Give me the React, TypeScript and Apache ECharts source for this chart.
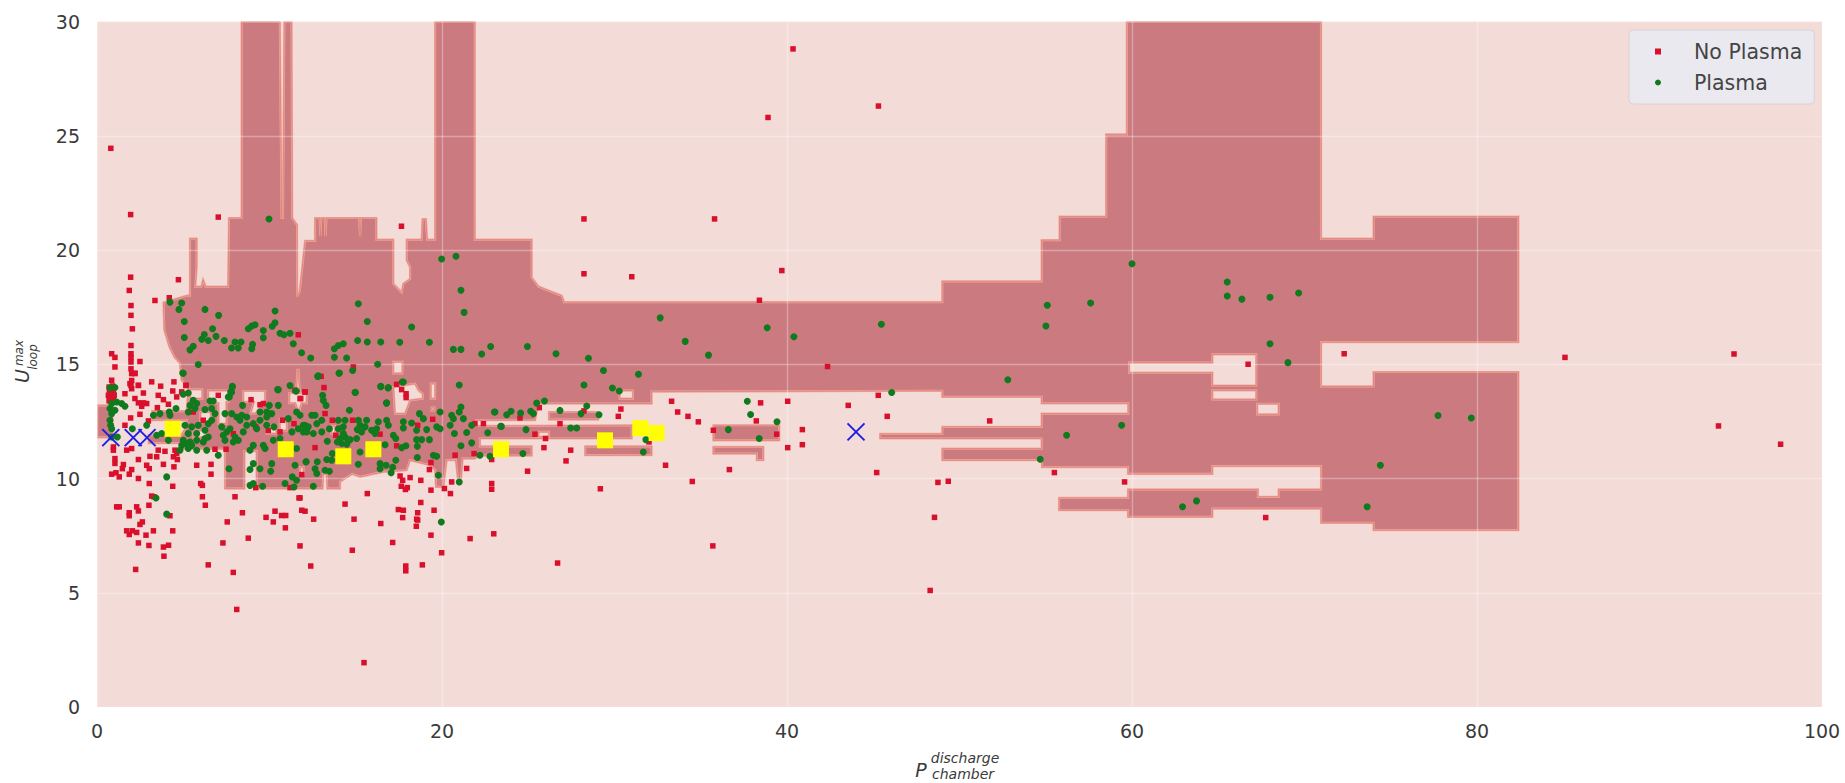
import React, { useEffect, useRef } from "react";
import * as echarts from "echarts";

const xTicks = { min: 0, max: 100, step: 20 };
const yTicks = { min: 0, max: 30, step: 5 };

// Decision region outline (P, U), clockwise
const mainRegion: number[][] = [
  [3.85,17.7],[5.2,18.0],[5.39,18.0],[5.39,20.5],[5.78,20.5],[5.78,19.25],[5.7,18.4],[6.05,18.4],[6.15,18.7],[6.3,18.4],[7.6,18.4],[7.65,21.4],[8.38,21.4],[8.38,30],
  [10.6,30],[10.7,21.4],[10.78,21.4],[10.86,30],[11.28,30],[11.32,21.4],[11.6,21.1],[11.6,17.95],[11.75,18.2],[12.06,20.4],[12.64,20.4],[12.64,21.4],[12.9,21.4],[12.95,20.6],[13.0,21.4],[13.2,21.4],[13.25,20.6],[13.3,21.4],
  [15.2,21.4],[15.25,20.6],[15.3,21.4],[16.2,21.4],[16.2,20.45],[17.18,20.45],[17.18,18.53],[17.66,18.15],[17.76,18.53],[18.15,18.74],[18.15,19.25],[17.95,19.55],[17.95,20.45],[18.82,20.45],[18.87,21.35],[19.07,21.35],[19.14,20.45],[19.6,20.45],[19.6,30],
  [21.9,30],[21.9,20.45],[25.2,20.45],[25.2,18.8],[25.6,18.4],[26.26,18.2],[26.94,18.0],[27.08,17.72],[49,17.72],[49,18.63],[54.76,18.63],[54.76,20.43],[55.8,20.43],[55.8,21.46],[58.5,21.46],[58.5,25.06],[59.7,25.06],[59.7,30],
  [70.96,30],[70.96,20.5],[74,20.5],[74,21.46],[82.4,21.46],[82.4,15.97],[70.96,15.97],[70.96,14.03],[74,14.03],[74,14.66],[82.4,14.66],[82.4,7.74],[74,7.74],[74,8.06],[70.96,8.06],[70.96,8.68],[64.66,8.68],[64.66,8.32],[59.77,8.32],[59.77,8.61],[55.77,8.61],[55.77,9.15],[59.77,9.15],[59.77,9.52],
  [67.3,9.52],[67.3,9.2],[68.5,9.2],[68.5,9.52],[70.96,9.52],[70.96,10.54],[64.66,10.54],[64.66,10.2],[59.77,10.2],[59.77,10.5],[54.78,10.5],[54.78,10.8],[49,10.8],[49,11.31],[54.76,11.31],[54.76,11.75],[45.4,11.75],[45.4,11.95],[49,11.95],[49,12.26],[54.76,12.26],[54.76,12.84],[59.78,12.84],[59.78,13.29],[54.76,13.29],[54.76,13.57],[49,13.57],[49,13.84],
  [32.15,13.8],[32.15,13.28],[25.58,13.28],[25.4,12.55],[22,12.55],[22,12.3],[31,12.33],[31,11.75],[22.2,11.75],[22.2,11.41],[25.2,11.41],[25.2,11.0],[22.2,11.0],[21.9,10.87],[21.2,10.87],[21.08,9.78],[20.95,9.78],[20.8,10.8],[20.27,10.8],[20.08,9.63],[19.65,9.63],[19.6,10.36],[19.3,10.58],[18.15,10.8],[17.95,10.36],[16.6,10.29],[15.25,10.07],[14.8,10.2],[14.09,9.85],[14.09,9.56],[13.35,9.56],[13.3,10.2],[13.12,10.2],[13.08,9.56],[9.25,9.56],[9.25,11.2],[8.55,11.2],[8.55,9.56],[7.42,9.56],[7.42,11.3],[5,11.3],[5,11.55],[3,11.55],[3,11.9],[4.9,11.9],[5.2,12.3],[5.2,12.55],[3.2,12.55],[3.2,12.95],[5.2,12.95],[5.3,14],[4.9,14.3],[4.8,15.05],[4.5,15.3],[4.2,15.75],[3.9,16.5],
];
const leftStub: number[][] = [[0,13.2],[0.9,13.2],[0.9,11.8],[0,11.8]];
const stripB: number[][] = [[26.2,12.91],[29.05,12.91],[29.05,12.58],[26.2,12.58]];
const stripD: number[][] = [[28.3,11.41],[32.15,11.41],[32.15,11.02],[28.3,11.02]];
const stripF: number[][] = [[35.73,12.33],[39.55,12.33],[39.55,11.67],[35.73,11.67]];
const stripG: number[][] = [[35.73,11.38],[38.63,11.38],[38.63,10.8],[38.25,10.8],[38.25,11.09],[35.73,11.09]];
const darkRegions = [mainRegion, leftStub, stripB, stripD, stripF, stripG];

const holeRegions: number[][][] = [
  [[6.45,13.85],[7.62,13.85],[7.62,13.35],[7.5,13.35],[7.5,12.4],[7.05,12.4],[7.05,13.3],[6.45,13.3]],
  [[8.48,13.83],[9.74,13.83],[9.74,13.45],[9.2,12.85],[8.9,12.85],[9.1,13.35],[8.48,13.35]],
  [[11.15,13.74],[12.15,13.74],[12.15,13.3],[11.85,13.3],[11.7,12.9],[11.5,13.3],[11.15,13.3]],
  [[11.55,13.8],[11.75,13.8],[11.68,14.75],[11.62,14.75]],
  [[17.18,14],[18.44,14.15],[18.63,13.86],[18.88,13.7],[18.88,13.5],[18.15,13.42],[17.86,12.84],[17.28,12.84]],
  [[17.18,15.1],[17.7,15.1],[17.7,14.6],[17.18,14.6]],
  [[19.35,14.15],[19.6,14.15],[19.6,13.5],[19.35,13.5]],
  [[19.4,13.1],[19.55,13.1],[19.55,12.98],[19.4,12.98]],
  [[30.3,13.85],[31.07,13.85],[31.07,13.5],[30.3,13.5]],
  [[25.6,12.04],[26.2,12.04],[26.2,11.82],[25.6,11.82]],
  [[59.83,15.07],[64.66,15.07],[64.66,15.43],[67.2,15.43],[67.2,14.07],[64.66,14.07],[64.66,14.63],[59.83,14.63]],
  [[64.66,13.86],[67.2,13.86],[67.2,13.46],[64.66,13.46]],
  [[67.26,13.27],[68.5,13.27],[68.5,12.81],[67.26,12.81]],
  [[9.84,12.33],[10.4,12.33],[10.4,11.97],[9.84,11.97]],
  [[10.6,12.6],[11,12.6],[11,12.1],[10.6,12.1]],
  [[13.6,12.3],[13.8,12.3],[13.8,11.97],[13.6,11.97]],
  [[11.77,10.5],[11.97,10.5],[11.97,10.2],[11.77,10.2]],
  [[6.0,12.9],[6.6,12.9],[6.6,12.5],[6.0,12.5]],
  [[5.4,13.9],[6.1,13.9],[6.1,13.5],[5.4,13.5]],
  [[5.6,12.1],[6.3,12.1],[6.3,11.8],[5.6,11.8]],
];

const noPlasmaOutliers: number[][] = [
  [0.8,24.45],[1.95,21.55],[7.03,21.44],[17.65,21.04],[28.23,21.36],[35.8,21.36],[40.35,28.8],[38.9,25.8],[45.3,26.3],[28.23,18.96],[31,18.83],[39.7,19.1],[38.4,17.8],[42.35,14.9],[43.55,13.2],[72.3,15.46],[85.1,15.3],[94.9,15.45],[94,12.3],[97.6,11.5],[66.73,15],[51.75,12.52],[55.5,10.26],[59.57,9.85],[48.75,9.83],[49.35,9.88],[48.55,8.3],[48.3,5.1],[45.2,10.26],[45.29,13.64],[45.81,12.72],[67.75,8.29],[35.7,7.05],[26.7,6.3],
];
const noPlasmaMid: number[][] = [
  [25.64,13.1],[24.52,12.65],[28.23,12.96],[30.37,13.04],[30.22,12.72],[26.84,12.4],[25.39,11.94],[26,11.75],[25.91,11.35],[27.46,11.24],[27.19,10.77],[24.96,10.32],[29.18,9.55],[32,11.6],[33.31,13.38],[33.66,12.91],[34.26,12.72],[34.86,12.48],[35.73,12.11],[39.4,11.94],[38.47,13.31],[40.04,13.38],[38.22,12.52],[40.89,12.14],[40.04,11.35],[40.89,11.48],[36.66,10.39],[32.96,10.58],[34.51,9.87],
  [13.16,13.98],[12.06,13.79],[11.77,13.5],[13.22,12.84],[17.37,14.12],[17.66,13.89],[17.92,13.71],[17.92,13.54],[14.82,12.55],[13.64,12.55],[13.84,11.89],[12.64,11.35],[16.41,11.94],[17.37,11.43],[18.59,12.33],[19.46,12.59],[20.76,11.02],[21.86,11.09],[22.4,12.4],[21.91,12.4],[22.88,10.83],[21.43,10.44],[19.36,10.7],[19.27,10.39],[17.57,10.11],[17.72,9.92],[18.15,10.04],[18.77,9.92],[17.64,9.66],[17.99,9.6],[17.88,9.52],[19.36,9.49],[20.14,9.56],[20.56,9.85],[20.49,9.34],[22.88,9.78],[22.88,9.53],[15.67,9.34],[14.38,8.88],[18.77,8.95],[17.47,8.64],[17.76,8.61],[19.54,8.61],[18.59,8.5],[17.72,8.29],[18.53,8.22],[18.59,8.18],[12.56,8.22],[14.9,8.22],[16.45,8.03],[18.51,7.91],[19.36,7.52],[21.63,7.37],[23,7.58],[17.14,7.2],[14.8,6.86],[19.98,6.75],[11.77,9.15],[11.87,8.61],[12.06,8.57],[11.77,7.05],[11.87,10.17],
];
const noPlasmaLeft: number[][] = [
  [0.85,14.3],[2.01,14.59],[2.2,14.59],[1.91,14.15],[2.01,13.93],[2.4,14.08],[3.17,14.23],[3.69,14.04],[4.46,14.23],[4.39,13.83],[5.16,14.08],[0.75,13.93],[0.85,13.71],[0.95,13.5],[0.66,13.64],[1.62,13.71],[2.69,13.74],[2.2,13.5],[3.55,13.64],[4.62,13.57],[4.91,13.79],[2.4,13.31],[2.69,13.31],[2.88,13.28],[2.59,13.16],[3.85,13.45],[4.14,13.25],[3.5,13.1],[1.95,12.65],[2.49,12.81],[1.62,12.33],[2.98,12.52],[0.95,11.38],[0.95,11.24],[1.04,10.87],[1.04,10.66],[1.72,11.24],[2.01,11.31],[2.4,10.83],[3.07,10.97],[3.46,10.95],[3.55,11.24],[3.94,11.19],[4.52,11.24],[4.43,10.95],[4.66,10.83],[3.85,10.62],[2.88,10.58],[3.03,10.43],[4.46,10.51],[1.53,10.61],[1.47,10.43],[2.01,10.39],[0.85,10.19],[1.1,10.25],[1.29,10.07],[1.87,10.19],[2.4,10],[3.03,9.78],[4.39,9.66],[3.17,9.23],[3.3,9.2],[3.01,8.83],[1.14,8.76],[1.29,8.76],[2.3,8.76],[2.4,8.58],[1.87,8.5],[1.87,8.37],[4.23,8.37],[2.63,8.1],[2.49,7.99],[1.72,7.71],[1.87,7.55],[2.05,7.71],[2.3,7.64],[2.84,7.52],[3.27,7.71],[4.39,7.71],[2.4,7.18],[3.01,7.07],[3.85,7],[4.15,7.08],[3.88,6.6],[5.78,10.58],[6.61,10.62],[6.61,10.19],[6.01,9.78],[6.11,9.7],[6.11,9.2],[6.28,8.83],[8,9.2],[8.43,8.5],[7.55,8.1],[8.77,7.39],[7.3,7.18],[9.8,8.3],[10.32,8.57],[10.22,8.1],[10.7,8.38],[10.94,8.38],[10.92,7.84],[11.71,9.15],[9.2,9.6],[11.19,9.6],[6.84,11.28],[7.48,11.28],[7.9,11.96],[7.03,13.64],[8.93,13.45],[9.45,13.23],[9.64,13.28],[11.48,13.86],[11.81,13.5],[10.76,12.55],[10.61,12.04],[9.93,12.11],[11.42,12.4],[9.2,12.26],[6.16,12.55],[5.58,12.91],[4.62,11.09],
  [1.95,18.81],[1.87,18.23],[1.97,17.57],[1.97,17.14],[2.05,16.55],[1.97,15.82],[1.97,15.46],[1.97,15.3],[1.97,15.1],[1.97,14.8],[0.85,15.46],[1.04,15.3],[1.04,14.88],[2.49,15.12],[2.2,14.61],[2.01,14.29],[1.97,14.07],[2.4,14.07],[4.72,18.7],[3.36,17.79],[4.19,17.91],[11.67,16.29],[12.99,14.47],[14.86,14.88],[12.06,13.78],[5.16,14.07],[0.85,13.93],[0.75,13.57],[0.95,13.57],
  [2.24,6.02],[6.45,6.22],[7.9,5.89],[8.1,4.27],[12.39,6.17],[17.9,6.17],[17.9,5.96],[18.86,6.22],[15.48,1.94],
  [0.7,13.4],[0.85,13.45],[0.95,13.8],[0.7,14.0],[0.9,14.05],[0.8,13.55],[1.0,13.65],[0.72,13.75],
];
const plasmaOutliers: number[][] = [
  [9.97,21.36],[19.98,19.61],[20.81,19.73],[21.1,18.24],[21.28,17.27],[32.65,17.03],[34.1,16],[35.45,15.4],[38.85,16.6],[40.4,16.2],[45.47,16.75],[46.07,13.76],[52.8,14.32],[55.09,17.58],[55.01,16.67],[57.6,17.68],[60,19.4],[65.52,18.6],[65.52,17.99],[66.37,17.85],[68,17.93],[69.66,18.12],[68,15.9],[69.04,15.07],[56.21,11.89],[59.4,12.33],[54.68,10.84],[62.93,8.76],[63.74,9.02],[73.63,8.76],[74.4,10.58],[77.74,12.76],[79.67,12.65],[37.7,13.38],[37.89,12.8],[39.42,12.48],[36.6,12.14],[38.39,11.75],[31.82,11.7],[31.67,11.16],[24.69,11.09],[19.96,8.1],
];
const plasmaUpper: number[][] = [
  [4.23,17.72],[4.91,17.68],[4.75,17.4],[6.26,17.4],[7.05,17.14],[10.32,17.33],[5.06,16.87],[6.7,16.55],[6.22,16.3],[6.07,16.09],[6.45,16.04],[5.06,16.17],[6.9,16.22],[7.38,16.04],[8,15.97],[8.35,15.97],[7.8,15.71],[8.19,15.71],[9.02,15.87],[8.97,15.68],[5.58,15.79],[5.39,15.63],[8.77,16.55],[8.97,16.67],[9.16,16.73],[9.64,16.48],[9.64,16.16],[10.16,16.66],[10.32,16.82],[10.61,16.36],[10.84,16.29],[11.19,16.36],[11.38,15.9],[11.86,15.5],[12.39,15.27],[13.76,15.68],[13.99,15.82],[14.28,15.9],[13.76,15.31],[14.47,15.27],[15.15,17.65],[15.11,16.04],[14.82,14.73],[14.03,14.61],[12.79,14.47],[5.87,14.99],[5,14.61],[7.84,14],[7.8,13.78],[7.61,13.57],[11.19,14.07],[11.54,13.83],[10.47,13.89],[0.75,13.97],
  [15.67,16.87],[18.24,16.63],[15.67,15.97],[16.45,15.97],[17.55,15.96],[19.27,15.96],[20.66,15.65],[21.1,15.65],[22.82,15.78],[22.3,15.45],[24.95,15.78],[26.61,15.46],[28.49,15.26],[29.36,14.73],[31.39,14.56],[28.23,14.09],[29.88,13.96],[30.28,13.83],[16.27,15],[16.45,14.02],[16.87,13.96],[17.7,14.22],[14.96,13.77],[21,14.09],[16.78,13.3],
  [23.04,12.91],[23.75,12.79],[24,12.94],[24.56,12.87],[25.14,12.94],[25.3,12.84],[25.49,13.3],[25.94,13.39],[26.84,12.98],[28.06,12.84],[28.39,13.17],[29.1,12.79],[24.87,12.14],[27.46,12.21],[27.81,12.21],[23.44,12.28],[22.65,12],
];
const plasmaDense: number[][] = [
  [14.05,14.62],[12.83,14.49],[16.45,14.04],[16.89,13.98],[17.76,14.22],[14.98,13.76],[13.08,13.64],[13.12,13.42],[13.28,13.2],[16.79,13.31],[14.63,12.99],[18.69,12.84],[19.89,12.91],[21.1,13.13],[21,12.91],[20.56,12.77],[23.07,12.91],[23.4,12.29],[21.72,12.33],[21.24,12.62],[20.66,12.62],[20.47,12.33],[18.92,12.62],[17.76,12.48],[19.89,12.18],[19.69,12.26],[19.11,12.14],[18.53,12.11],[18.24,12.43],[17.76,12.21],[20.72,11.97],[21.43,12.01],[21.72,11.56],[21.1,11.43],[19.27,11.7],[18.82,11.7],[18.53,11.7],[18.57,11.41],[17.91,11.43],[17.66,11.35],[17.18,11.89],[17.32,11.75],[16.7,11.48],[15.25,11.16],[13.64,11.09],[13.32,10.83],[13.6,10.8],[12.12,10.73],[12.77,10.73],[12.64,10.43],[12.74,10.22],[13.22,10.36],[13.47,10.32],[12.54,9.66],[15.15,10.62],[16.41,10.65],[16.41,10.43],[16.76,10.58],[17.05,10.25],[17.14,10.49],[17.32,10.8],[18.57,10.92],[19.5,11.02],[19.69,10.97],[19.79,10.14],[21,9.85],[22.2,11.02],[22.78,10.97],[13.35,11.63],
  [14.09,11.75],[14.38,11.82],[14.57,11.67],[14.19,11.53],[14.48,11.5],[14.28,11.97],[13.93,11.6],[12.06,12.33],[12.45,12.77],[12.64,12.77],[12.74,12.4],[13.03,12.55],[12.16,12.04],[12.54,11.97],[13.03,12.04],[13.47,12.18],[13.99,12.55],[14.38,12.55],[14.28,12.26],[13.99,12.18],[15.15,12.55],[15.63,12.55],[15.25,12.33],[15.54,12.26],[15.09,12.14],[15.34,12.04],[15.92,12.11],[16.31,12.48],[16.79,12.55],[16.89,12.33],[16.21,12.18],[16.12,11.97],[15.05,11.75],[14.67,11.7],
];
const plasmaLeft: number[][] = [
  [4.97,14.62],[7.85,14.04],[7.75,13.79],[7.67,13.57],[10.51,13.89],[11.54,13.83],[5.29,13.74],[5,13.69],[1.04,13.98],[0.85,13.28],[0.75,13.06],[0.85,12.84],[0.75,12.55],[0.79,12.33],[0.85,12.18],[1.14,13.35],[1.43,13.28],[1.62,13.16],[1.04,12.99],[1.18,11.82],[0.85,11.82],[2.05,12.18],[4.04,10.07],[3.42,9.15],[4.04,8.44],[3.27,12.77],[3.65,12.84],[2.88,12.33],[4.19,12.91],[4.58,13.06],[4.23,12.77],[3.46,11.89],[3.75,11.97],[4.14,11.67],
  [5.58,13.42],[5.78,13.28],[5.39,13.2],[6.55,13.39],[6.74,13.39],[6.26,13.02],[6.65,13.06],[5.29,12.91],[5.68,13.06],[7.42,12.84],[7.81,12.84],[8.1,12.69],[8.39,12.77],[8.68,12.69],[8.44,13.2],[9.45,12.91],[9.84,12.91],[10.13,12.84],[9.99,13.2],[10.51,13.2],[11.57,12.91],[11.77,12.77],
  [5.1,12.33],[5.49,12.26],[5.87,12.33],[5.29,11.97],[5.78,11.97],[6.26,12.11],[6.45,12.4],[6.65,12.55],[6.84,12.84],[7.23,12.26],[7.52,12.04],[7.32,11.89],[7.71,12.18],[8,11.82],[8.29,12.55],[8.48,12.04],[8.68,12.33],[9.06,12.4],[9.45,12.55],[9.84,12.69],[10.26,12.26],[11.09,12.62],[9.84,12.33],[9.26,12.18],[11.67,12.18],[11.96,12.33],[12.25,12.26],[11.3,12.04],[11.96,12.04],
  [5,11.67],[5.39,11.6],[5.1,11.53],[5.78,11.67],[6.26,11.75],[6.45,11.82],[6.16,11.6],[4.91,11.45],[5.29,11.31],[4.81,11.24],[5.49,11.45],[5.78,11.24],[6.36,11.24],[7.03,11.02],[7.42,11.67],[7.9,11.6],[8.19,11.67],[9.06,11.45],[8.87,11.24],[9.64,11.45],[9.74,11.31],[10.22,11.67],[10.61,11.75],[9.06,10.65],[8.87,10.39],[9.45,10.43],[10.13,10.65],[10.07,10.32],[9.06,9.78],[8.87,9.7],[9.6,9.66],[10.9,9.78],[11.48,10.58],[11.32,10.07],[11.57,9.92],[11.42,9.63],[12.12,10.73],[7.65,10.43],[11.57,11.31],
];
const supportYellow: number[][] = [[4.39,12.18],[10.94,11.28],[14.28,10.97],[16.02,11.28],[23.42,11.28],[29.45,11.67],[31.5,12.2],[32.44,11.99]];
const errorBlue: number[][] = [[0.8,11.79],[2.1,11.79],[2.9,11.79],[44,12.04]];

const BG = "#f3dcd8";
const DARK = "#cb7a80";
const EDGE = "#f1a79c";
const EDGE_LINE = "#d8726c";
const CROSS = "path://M0 0L10 10M10 0L0 10";
const MATH = "'DejaVu Sans'";
const INK = "#3a3a3a";

function polygonItem(points: number[][], fill: string, api: any) {
  const pts = points.map((p) => api.coord(p));
  return {
    type: "group",
    children: [
      { type: "polygon", shape: { points: pts }, style: { fill, stroke: EDGE, lineWidth: 2.2, lineJoin: "miter" } },
      { type: "polygon", shape: { points: pts }, style: { fill: "none", stroke: EDGE_LINE, lineWidth: 0.6 } },
    ],
  };
}

function mathText(text: string, x: number, y: number, size: number, extra: any = {}) {
  return { type: "text", x, y, silent: true, style: { text, fontFamily: MATH, fontStyle: "italic", fontSize: size, fill: INK, align: "center", verticalAlign: "middle", ...extra } };
}

export default function App() {
  const ref = useRef<HTMLDivElement>(null);
  useEffect(() => {
    const chart = echarts.init(ref.current!, undefined, { renderer: "svg" });
    const axisLabel = { color: INK, fontSize: 19, fontFamily: MATH };
    const splitLine = { show: true, lineStyle: { color: "rgba(255,255,255,0.32)", width: 1.4 } };
    const common = { z: 2, axisLine: { show: false }, axisTick: { show: false }, splitLine };
    chart.setOption({
      animation: false,
      backgroundColor: "#ffffff",
      grid: { left: 97, right: 23, top: 21.5, bottom: 76, backgroundColor: BG, show: true, borderWidth: 0 },
      xAxis: { type: "value", min: xTicks.min, max: xTicks.max, interval: xTicks.step, axisLabel: { ...axisLabel, margin: 14 }, ...common },
      yAxis: { type: "value", min: yTicks.min, max: yTicks.max, interval: yTicks.step, axisLabel: { ...axisLabel, margin: 17 }, ...common },
      legend: {
        left: 1629, top: 30, orient: "vertical", data: ["No Plasma", "Plasma"],
        backgroundColor: "rgba(234,233,241,0.95)", borderColor: "#d6d2d6", borderWidth: 1, borderRadius: 4,
        padding: [11, 12, 11, 26], itemWidth: 6, itemHeight: 6, itemGap: 10,
        textStyle: { fontSize: 20.5, color: "#444444", fontFamily: MATH, padding: [0, 0, 0, 28] },
      },
      graphic: [
        {
          type: "group", x: 22, y: 365, rotation: Math.PI / 2, silent: true,
          children: [mathText("U", -11, 0, 19), mathText("max", 12, -3, 12), mathText("loop", 8, 11, 12)],
        },
        {
          type: "group", x: 921, y: 770, silent: true,
          children: [mathText("P", 0, 0, 19), mathText("discharge", 44, -12, 14), mathText("chamber", 42, 4, 14)],
        },
      ],
      series: [
        {
          type: "custom", silent: true, clip: true, z: 1, data: darkRegions.map((_, i) => [i]),
          renderItem: (params: any, api: any) => polygonItem(darkRegions[params.dataIndex], DARK, api),
        },
        {
          type: "custom", silent: true, clip: true, z: 1, data: holeRegions.map((_, i) => [i]),
          renderItem: (params: any, api: any) => polygonItem(holeRegions[params.dataIndex], BG, api),
        },
        {
          name: "No Plasma", type: "scatter", z: 5, symbol: "rect", symbolSize: 5.5, silent: true,
          itemStyle: { color: "#d90f2c", opacity: 1 },
          data: [...noPlasmaOutliers, ...noPlasmaMid, ...noPlasmaLeft],
        },
        {
          name: "Plasma", type: "scatter", z: 6, symbol: "circle", symbolSize: 7, silent: true,
          itemStyle: { color: "#0f7a1e", opacity: 1 },
          data: [...plasmaOutliers, ...plasmaUpper, ...plasmaDense, ...plasmaLeft],
        },
        {
          name: "Support", type: "scatter", z: 7, symbol: "rect", symbolSize: 16, silent: true,
          itemStyle: { color: "#ffff00", opacity: 1 }, data: supportYellow,
        },
        {
          name: "Error", type: "scatter", z: 8, symbol: CROSS, symbolSize: 17, silent: true,
          itemStyle: { color: "none", borderColor: "#2020e0", borderWidth: 2, opacity: 1 }, data: errorBlue,
        },
      ],
    });
    return () => chart.dispose();
  }, []);
  return <div ref={ref} style={{ position: "fixed", left: 0, top: 0, width: 1845, height: 783, background: "#fff" }} />;
}
